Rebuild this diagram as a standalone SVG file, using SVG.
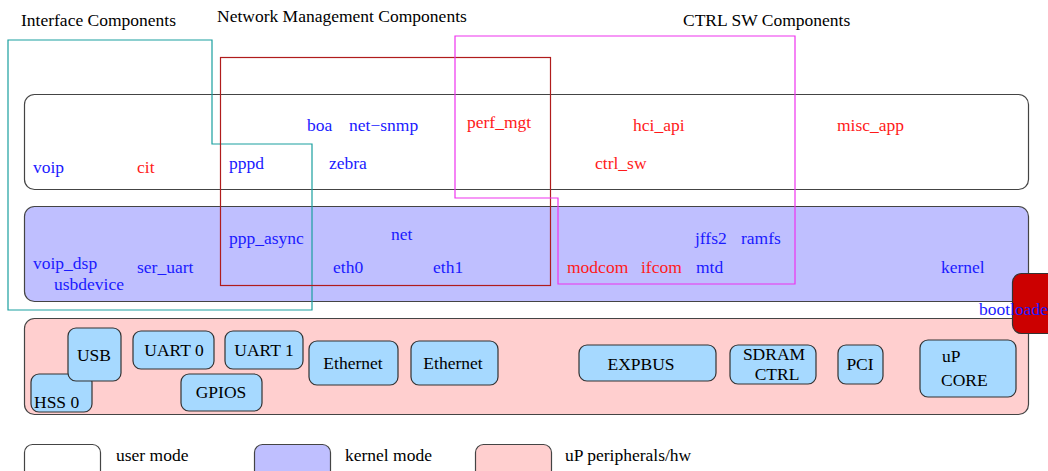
<svg xmlns="http://www.w3.org/2000/svg" width="1048" height="471" viewBox="0 0 1048 471">
<style>
text{font-family:"Liberation Serif","Times New Roman",serif;font-size:17.5px}
.b{fill:#1a1aff}
.r{fill:#ff1a1a}
.k{fill:#000}
.m{text-anchor:middle}
.area{stroke:#444;stroke-width:1.2}
.hw{fill:#a6d9ff;stroke:#333;stroke-width:1.2}
</style>
<rect width="1048" height="471" fill="#fff"/>
<g id="layers">
<rect id="user" class="area" x="24.5" y="94.5" width="1004" height="95" rx="10" fill="#fff"/>
<rect id="kernel" class="area" x="24.5" y="206.5" width="1004" height="95" rx="10" fill="#bfbfff"/>
<rect id="hwlayer" class="area" x="24.5" y="318.5" width="1004" height="96" rx="10" fill="#ffcfcf"/>
</g>
<g id="groups" fill="none">
<polygon id="iface" points="8,40 212,40 212,144 312,144 312,310 8,310" stroke="#1a9f9f" stroke-width="1.2"/>
<rect id="netmgmt" x="220.5" y="57.5" width="330" height="228" stroke="#b01c1c" stroke-width="1.2"/>
<polygon id="ctrlsw" points="455,36 795,36 795,284 558,284 558,198 455,198" stroke="#ee33ee" stroke-width="1.2"/>
</g>
<g id="titles">
<text class="k" x="21" y="26">Interface Components</text>
<text class="k" x="217" y="22">Network Management Components</text>
<text class="k" x="683" y="26">CTRL SW Components</text>
</g>
<g id="user-labels">
<text class="b" x="307" y="131">boa</text>
<text class="b" x="349" y="131">net−snmp</text>
<text class="r" x="467" y="128">perf_mgt</text>
<text class="r" x="633" y="131">hci_api</text>
<text class="r" x="837" y="131">misc_app</text>
<text class="b" x="33" y="173">voip</text>
<text class="r" x="137" y="173">cit</text>
<text class="b" x="229" y="169">pppd</text>
<text class="b" x="329" y="169">zebra</text>
<text class="r" x="595" y="169">ctrl_sw</text>
</g>
<g id="kernel-labels">
<text class="b" x="229" y="244">ppp_async</text>
<text class="b" x="391" y="240">net</text>
<text class="b" x="695" y="244">jffs2</text>
<text class="b" x="741" y="244">ramfs</text>
<text class="b" x="33" y="269">voip_dsp</text>
<text class="b" x="137" y="273">ser_uart</text>
<text class="b" x="333" y="273">eth0</text>
<text class="b" x="433" y="273">eth1</text>
<text class="r" x="567" y="273">modcom</text>
<text class="r" x="641" y="273">ifcom</text>
<text class="b" x="696" y="273">mtd</text>
<text class="b" x="941" y="273">kernel</text>
<text class="b" x="54" y="290">usbdevice</text>
</g>
<g id="bootloader">
<rect x="1012.5" y="273.5" width="50" height="60" rx="9" fill="#cc0000" stroke="#333" stroke-width="1.2"/>
<text class="b" x="979" y="315">bootloader</text>
</g>
<g id="hss0"><rect class="hw" x="31" y="374" width="61" height="38" rx="8"/><text class="k" x="34" y="408">HSS 0</text></g>
<g id="usb"><rect class="hw" x="68" y="328" width="53" height="53" rx="8"/><text class="k m" x="94" y="361">USB</text></g>
<g id="uart0"><rect class="hw" x="133" y="331" width="81" height="38" rx="8"/><text class="k m" x="174" y="356">UART 0</text></g>
<g id="uart1"><rect class="hw" x="225" y="331" width="78" height="38" rx="8"/><text class="k m" x="264" y="356">UART 1</text></g>
<g id="gpios"><rect class="hw" x="181" y="374" width="81" height="37" rx="8"/><text class="k m" x="221" y="398">GPIOS</text></g>
<g id="eth-a"><rect class="hw" x="309" y="341" width="89" height="44" rx="8"/><text class="k m" x="353" y="369">Ethernet</text></g>
<g id="eth-b"><rect class="hw" x="411" y="341" width="87" height="44" rx="8"/><text class="k m" x="453" y="369">Ethernet</text></g>
<g id="expbus"><rect class="hw" x="579" y="345" width="137" height="36" rx="8"/><text class="k m" x="641" y="370">EXPBUS</text></g>
<g id="sdram"><rect class="hw" x="730" y="345" width="86" height="39" rx="8"/><text class="k m" x="774" y="360">SDRAM</text><text class="k m" x="777" y="380">CTRL</text></g>
<g id="pci"><rect class="hw" x="838" y="345" width="45" height="39" rx="8"/><text class="k m" x="860" y="370">PCI</text></g>
<g id="upcore"><rect class="hw" x="920" y="340" width="96" height="57" rx="8"/><text class="k" x="942" y="362">uP</text><text class="k" x="941" y="386">CORE</text></g>
<g id="legend">
<rect class="area" x="24.5" y="444.5" width="76" height="34" rx="8" fill="#fff"/>
<text class="k" x="116" y="461">user mode</text>
<rect class="area" x="254.5" y="444.5" width="76" height="34" rx="8" fill="#bfbfff"/>
<text class="k" x="345" y="461">kernel mode</text>
<rect class="area" x="475.5" y="444.5" width="76" height="34" rx="8" fill="#ffcfcf"/>
<text class="k" x="565" y="461">uP peripherals/hw</text>
</g>
<g id="connectors"/>
</svg>
